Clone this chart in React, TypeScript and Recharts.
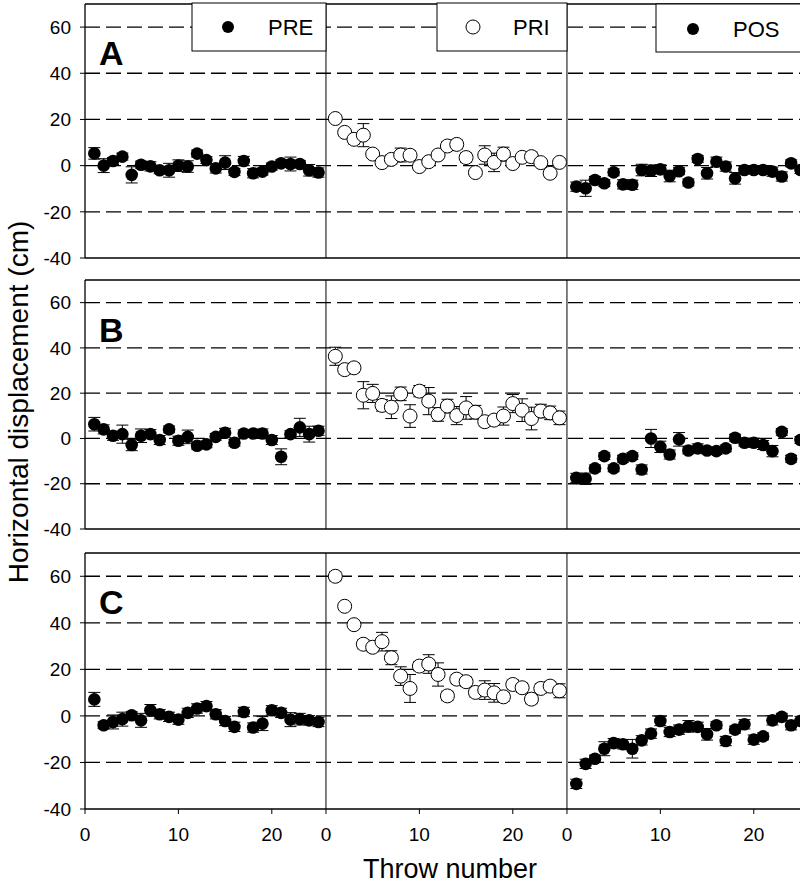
import React from 'react';
import {
  ScatterChart,
  Scatter,
  XAxis,
  YAxis,
  ErrorBar,
  ReferenceLine,
} from 'recharts';

// throw numbers inside each block
const throws = [1, 2, 3, 4, 5, 6, 7, 8, 9, 10, 11, 12, 13, 14, 15, 16, 17, 18, 19, 20, 21, 22, 23, 24, 25];

// row A
const aPre = [5.3, 0, 2, 3.9, -4, 0.4, -0.3, -2, -2, 0, -0.4, 5.2, 2.4, -1.2, 1.3, -2.7, 2, -3.3, -2.6, -0.4, 1, 0.7, 0.7, -2, -3];
const aPreErr = [2.5, 3, 1.5, 1.5, 3.5, 1.5, 2, 1.5, 3, 2.5, 2.5, 1.5, 1.5, 2, 3, 1.5, 2, 2, 1.5, 1.5, 1.5, 3, 1.5, 2.5, 2];
const aPri = [20.4, 14.4, 11.4, 13.2, 5, 1.3, 2.7, 4.6, 4.5, -0.4, 1.7, 4.6, 8.5, 9.2, 3.5, -3, 4.6, 1.4, 5, 0.9, 3.6, 3.9, 1.3, -3.3, 1.4];
const aPriErr = [1.5, 1.5, 2, 5, 1.5, 1.5, 2, 3, 2, 1.5, 1.5, 1.5, 2, 2, 2, 1.5, 4, 4, 3, 1.5, 1.5, 2, 1.5, 1.5, 1.5];
const aPos = [-9.1, -9.8, -6.2, -7.6, -2.9, -8.1, -8.3, -1.9, -2.2, -1.6, -4.5, -2.4, -7.3, 2.9, -3.3, 1.7, -0.4, -5.5, -1.9, -1.9, -1.9, -2.6, -4.7, 1, -1.9];
const aPosErr = [2, 3.5, 1.5, 1.5, 1.5, 2, 2, 2.5, 2.5, 2, 2.5, 1.5, 1.5, 1.5, 2.5, 2, 2, 2.5, 1.5, 1.5, 1.5, 2, 2, 1.5, 1.5];

// row B
const bPre = [6.3, 4, 1.2, 1.9, -2.9, 1.2, 1.9, -0.7, 4, -1, 0.7, -3.2, -2.6, 0.7, 2.5, -1.9, 2.2, 2.2, 2.2, -0.7, -8.1, 1.9, 4.9, 1.9, 3.4];
const bPreErr = [3, 2, 2, 4, 2.5, 3, 2, 2, 1.5, 2, 3, 1.5, 1.5, 1.5, 2, 1.5, 1.5, 1.5, 2, 2, 3.5, 1.5, 4, 3.5, 2];
const bPri = [36.3, 30.4, 31.2, 19.1, 19.9, 14.6, 13.8, 19.7, 9.9, 20.9, 16.5, 10.6, 14.3, 10.1, 13.5, 11.6, 7.4, 8.1, 9.9, 15.4, 12.5, 8.8, 12.1, 11.3, 9.1];
const bPriErr = [4, 2, 2, 6, 4, 2.5, 5, 3, 5, 2.5, 6, 3, 3, 4, 5, 3, 2, 2, 4, 4, 5, 5, 3, 3, 3];
const bPos = [-17.4, -17.8, -13.2, -7.8, -13.2, -9, -7.8, -13.7, 0, -3.7, -7.1, -0.4, -5.3, -4.4, -5.3, -5.6, -4.4, 0.3, -1.9, -1.9, -2.9, -5.6, 2.9, -9, -0.7];
const bPosErr = [2, 2.5, 1.5, 1.5, 1.5, 1.5, 1.5, 2, 4, 2.5, 2, 3, 1.5, 2, 1.5, 1.5, 1.5, 1.5, 1.5, 2, 2, 2.5, 1.5, 1.5, 1.5];

// row C
const cPre = [7.1, -4, -2.6, -1.4, 0.3, -1.9, 2.4, 0.7, -0.4, -1.6, 1.3, 3.2, 4.2, 0.7, -2.2, -4.7, 1.7, -5, -3.3, 2.4, 1.3, -1.6, -1.4, -1.9, -2.6];
const cPreErr = [3, 1.5, 3, 3, 1.5, 3, 2.5, 2, 2, 2, 2, 2, 2, 2, 2, 2, 2, 2, 3, 2, 2, 3, 2.5, 2, 2];
const cPri = [60, 47.1, 39.2, 30.8, 29.5, 31.9, 25, 17.1, 11.8, 21.4, 22.3, 17.8, 8.6, 15.8, 14.7, 10.1, 11.1, 9.9, 8.2, 13.5, 12.1, 7.2, 11.8, 12.8, 10.8];
const cPriErr = [2, 1.5, 1.5, 2, 2, 4, 3, 4, 6, 2, 4, 5, 2, 2, 2, 2, 4, 4, 2, 2, 2, 2, 2, 2, 3];
const cPos = [-29.2, -20.6, -18.4, -14.1, -11.7, -12.2, -14.1, -10.5, -7.6, -2.2, -6.9, -5.9, -4.5, -4.7, -7.9, -4, -10.8, -5.9, -3.6, -10.2, -8.8, -1.9, -0.4, -4, -2.2];
const cPosErr = [2, 2, 1.5, 3, 2, 2, 4, 2, 2, 2, 2, 2, 2.5, 2, 2.5, 1.5, 2, 1.5, 2, 2, 1.5, 2, 1.5, 2, 2];

const yTicks = [-40, -20, 0, 20, 40, 60];
const dashValues = [60, 40, 20, 0, -20];
const xTickLabels = [0, 10, 20];

const BLOCK = 25.8; // width of one block in throw units
const XMAX = 76.55;
const FONT = '"Liberation Sans", Arial, Helvetica, sans-serif';

const toPoints = (vals: number[], errs: number[], block: number) =>
  vals.map((v, i) => ({ x: throws[i] + block * BLOCK, y: v, err: errs[i] }));

const Dot = (props: any) => <circle cx={props.cx} cy={props.cy} r={6.3} fill="#000" />;
const Ring = (props: any) => (
  <circle cx={props.cx} cy={props.cy} r={7} fill="#fff" stroke="#000" strokeWidth={1} />
);

const xTicks = [0, 1, 2].flatMap((b) => xTickLabels.map((t) => t + b * BLOCK));

interface RowProps {
  top: number;
  plotHeight: number;
  showLabels: boolean;
  pre: number[];
  preErr: number[];
  pri: number[];
  priErr: number[];
  pos: number[];
  posErr: number[];
}

function Row({ top, plotHeight, showLabels, pre, preErr, pri, priErr, pos, posErr }: RowProps) {
  const axisH = showLabels ? 40 : 10;
  const height = 4 + plotHeight + axisH;
  return (
    <div style={{ position: 'absolute', left: 0, top: top - 4, width: 800, height }}>
      <ScatterChart width={800} height={height} margin={{ top: 4, right: 0, bottom: 0, left: 0 }}>
        <XAxis
          type="number"
          dataKey="x"
          domain={[0, XMAX]}
          allowDataOverflow
          ticks={xTicks}
          height={axisH}
          tickSize={showLabels ? 5 : -5}
          tickMargin={14}
          stroke="#000"
          tickLine={{ stroke: '#000' }}
          axisLine={{ stroke: '#000', strokeWidth: 1.3 }}
          tick={showLabels ? { fill: '#000', fontSize: 19, fontFamily: FONT } : false}
          tickFormatter={(v: number) => String(Math.round(v % BLOCK))}
        />
        <YAxis
          type="number"
          dataKey="y"
          domain={[-40, 70]}
          allowDataOverflow
          ticks={yTicks}
          width={85}
          tickSize={5}
          tickMargin={9}
          interval={0}
          stroke="#000"
          axisLine={{ stroke: '#000', strokeWidth: 1.3 }}
          tick={{ fill: '#000', fontSize: 19, fontFamily: FONT }}
        />
        {dashValues.map((v) => (
          <ReferenceLine key={v} y={v} stroke="#000" strokeWidth={1.3} strokeDasharray="15 6" />
        ))}
        <ReferenceLine y={70} stroke="#000" strokeWidth={1.3} />
        <ReferenceLine x={BLOCK} stroke="#000" strokeWidth={1} />
        <ReferenceLine x={2 * BLOCK} stroke="#000" strokeWidth={1} />
        <Scatter data={toPoints(pre, preErr, 0)} shape={Dot} isAnimationActive={false}>
          <ErrorBar dataKey="err" direction="y" width={6} stroke="#000" strokeWidth={1} />
        </Scatter>
        <Scatter data={toPoints(pri, priErr, 1)} shape={Ring} isAnimationActive={false}>
          <ErrorBar dataKey="err" direction="y" width={6} stroke="#000" strokeWidth={1} />
        </Scatter>
        <Scatter data={toPoints(pos, posErr, 2)} shape={Dot} isAnimationActive={false}>
          <ErrorBar dataKey="err" direction="y" width={6} stroke="#000" strokeWidth={1} />
        </Scatter>
      </ScatterChart>
    </div>
  );
}

export default function App() {
  return (
    <div style={{ position: 'absolute', left: 0, top: 0, width: 800, height: 885, background: '#fff', overflow: 'hidden' }}>
      <Row top={4} plotHeight={254} showLabels={false} pre={aPre} preErr={aPreErr} pri={aPri} priErr={aPriErr} pos={aPos} posErr={aPosErr} />
      <Row top={280} plotHeight={249} showLabels={false} pre={bPre} preErr={bPreErr} pri={bPri} priErr={bPriErr} pos={bPos} posErr={bPosErr} />
      <Row top={553} plotHeight={256} showLabels pre={cPre} preErr={cPreErr} pri={cPri} priErr={cPriErr} pos={cPos} posErr={cPosErr} />

      <svg width={800} height={885} style={{ position: 'absolute', left: 0, top: 0, pointerEvents: 'none' }} fontFamily={FONT}>
        {/* legends */}
        <rect x={192} y={3} width={134} height={48} fill="#fff" stroke="#000" strokeWidth={1} />
        <circle cx={228} cy={27} r={6} fill="#000" />
        <text x={268} y={35} fontSize={22}>PRE</text>

        <rect x={437} y={3} width={130} height={48} fill="#fff" stroke="#000" strokeWidth={1} />
        <circle cx={473} cy={27} r={7} fill="#fff" stroke="#000" />
        <text x={513} y={35} fontSize={22}>PRI</text>

        <rect x={656} y={4} width={150} height={48} fill="#fff" stroke="#000" strokeWidth={1} />
        <circle cx={693} cy={29} r={6} fill="#000" />
        <text x={733} y={37} fontSize={22}>POS</text>

        {/* block letters */}
        <text x={99} y={65} fontSize={34} fontWeight="bold">A</text>
        <text x={99} y={342} fontSize={34} fontWeight="bold">B</text>
        <text x={99} y={614} fontSize={34} fontWeight="bold">C</text>

        {/* axis titles */}
        <text x={450} y={878} fontSize={27} textAnchor="middle">Throw number</text>
        <text transform="translate(28, 402) rotate(-90)" fontSize={28} textAnchor="middle">
          Horizontal displacement (cm)
        </text>
      </svg>
    </div>
  );
}
